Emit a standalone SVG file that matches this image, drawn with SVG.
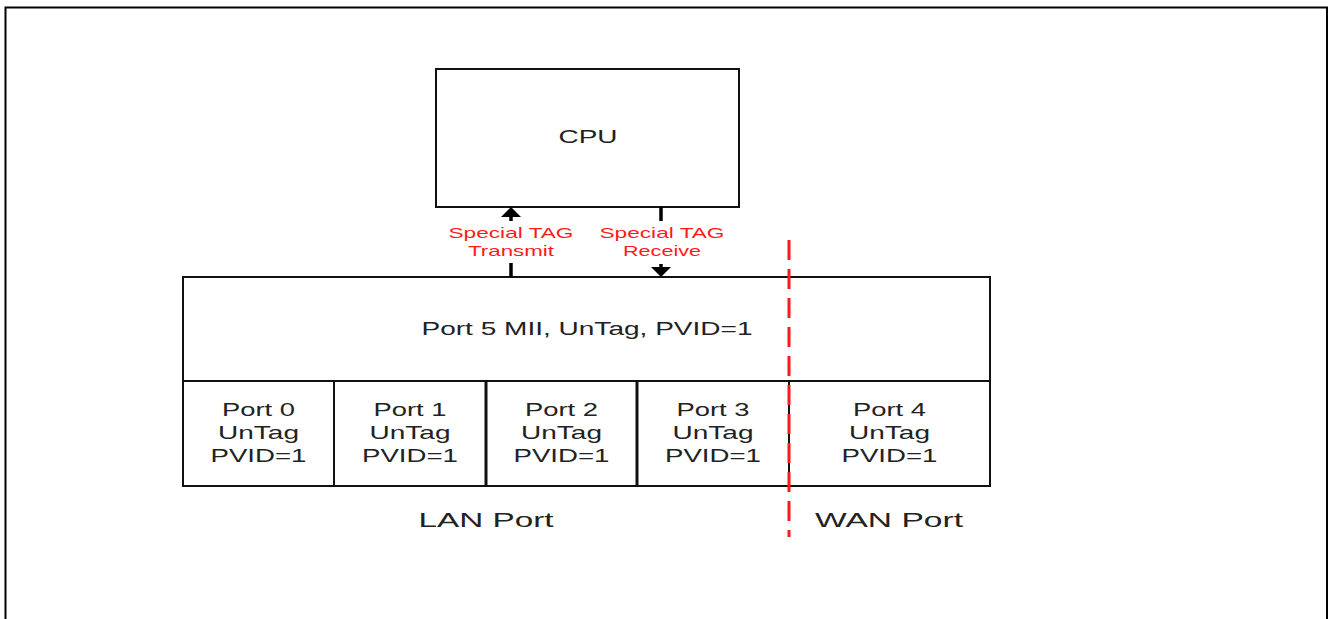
<svg xmlns="http://www.w3.org/2000/svg" width="1329" height="619" viewBox="0 0 1329 619">
<style>
.box{fill:#fff;stroke:#111;stroke-width:2}
.div{stroke:#111;stroke-width:2}
.thick{stroke:#111;stroke-width:3}
.t{font-family:"Liberation Sans",Arial,sans-serif;fill:#222;text-anchor:middle}
.p{font-size:19px}
.r{font-family:"Liberation Sans",Arial,sans-serif;fill:#ff1a1a;text-anchor:middle;font-size:15px}
.stem{stroke:#000;stroke-width:3.5}
</style>
<rect width="1329" height="619" fill="#fff"/>
<path d="M5.5,619 V7.5 H1327 V619" fill="none" stroke="#000" stroke-width="2"/>
<g id="cpu">
<rect class="box" x="436" y="69" width="303" height="138"/>
<text class="t" x="588" y="143" font-size="18" textLength="59" lengthAdjust="spacingAndGlyphs">CPU</text>
</g>
<g id="port5">
<rect class="box" x="183" y="277" width="807" height="209"/>
<line class="div" x1="183" y1="381" x2="990" y2="381"/>
<text class="t" x="587" y="335" font-size="18" textLength="331" lengthAdjust="spacingAndGlyphs">Port 5 MII, UnTag, PVID=1</text>
</g>
<g id="port0">
<text class="t p" x="258.5" y="416" textLength="73" lengthAdjust="spacingAndGlyphs">Port 0</text>
<text class="t p" x="258.5" y="439" textLength="81" lengthAdjust="spacingAndGlyphs">UnTag</text>
<text class="t p" x="258.5" y="462" textLength="96" lengthAdjust="spacingAndGlyphs">PVID=1</text>
</g>
<g id="port1">
<line class="div" x1="334" y1="381" x2="334" y2="486"/>
<text class="t p" x="410" y="416" textLength="73" lengthAdjust="spacingAndGlyphs">Port 1</text>
<text class="t p" x="410" y="439" textLength="81" lengthAdjust="spacingAndGlyphs">UnTag</text>
<text class="t p" x="410" y="462" textLength="96" lengthAdjust="spacingAndGlyphs">PVID=1</text>
</g>
<g id="port2">
<line class="thick" x1="486" y1="381" x2="486" y2="486"/>
<text class="t p" x="561.5" y="416" textLength="73" lengthAdjust="spacingAndGlyphs">Port 2</text>
<text class="t p" x="561.5" y="439" textLength="81" lengthAdjust="spacingAndGlyphs">UnTag</text>
<text class="t p" x="561.5" y="462" textLength="96" lengthAdjust="spacingAndGlyphs">PVID=1</text>
</g>
<g id="port3">
<line class="thick" x1="637" y1="381" x2="637" y2="486"/>
<text class="t p" x="713" y="416" textLength="73" lengthAdjust="spacingAndGlyphs">Port 3</text>
<text class="t p" x="713" y="439" textLength="81" lengthAdjust="spacingAndGlyphs">UnTag</text>
<text class="t p" x="713" y="462" textLength="96" lengthAdjust="spacingAndGlyphs">PVID=1</text>
</g>
<g id="port4">
<line class="div" x1="789" y1="381" x2="789" y2="486"/>
<text class="t p" x="889.5" y="416" textLength="73" lengthAdjust="spacingAndGlyphs">Port 4</text>
<text class="t p" x="889.5" y="439" textLength="81" lengthAdjust="spacingAndGlyphs">UnTag</text>
<text class="t p" x="889.5" y="462" textLength="96" lengthAdjust="spacingAndGlyphs">PVID=1</text>
</g>
<g id="labels">
<text class="t" x="486" y="527" font-size="21" textLength="135" lengthAdjust="spacingAndGlyphs">LAN Port</text>
<text class="t" x="889" y="527" font-size="21" textLength="148" lengthAdjust="spacingAndGlyphs">WAN Port</text>
</g>
<g id="connectors">
<line class="stem" x1="511" y1="214" x2="511" y2="221"/>
<polygon points="511,207 521,217 501,217" fill="#000"/>
<line class="stem" x1="511" y1="263" x2="511" y2="277"/>
<line class="stem" x1="661" y1="207" x2="661" y2="221"/>
<line class="stem" x1="661" y1="264" x2="661" y2="270"/>
<polygon points="661,277 671,267 651,267" fill="#000"/>
<text class="r" x="511" y="238" textLength="125" lengthAdjust="spacingAndGlyphs">Special TAG</text>
<text class="r" x="511" y="256" textLength="86" lengthAdjust="spacingAndGlyphs">Transmit</text>
<text class="r" x="662" y="238" textLength="125" lengthAdjust="spacingAndGlyphs">Special TAG</text>
<text class="r" x="662" y="256" textLength="78" lengthAdjust="spacingAndGlyphs">Receive</text>
<line x1="789" y1="240" x2="789" y2="537" stroke="#ff1a1a" stroke-width="3" stroke-dasharray="20 9"/>
</g>
</svg>
